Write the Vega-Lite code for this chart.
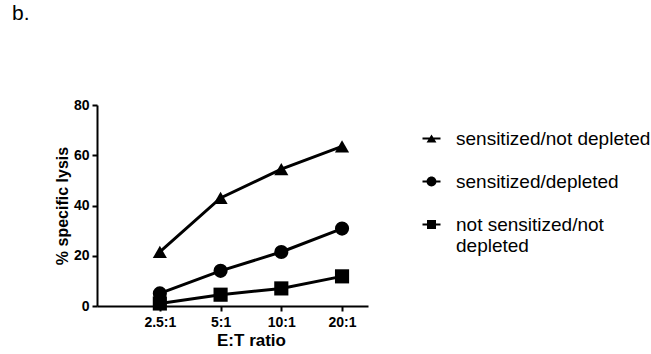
{
  "$schema": "https://vega.github.io/schema/vega-lite/v6.json",
  "width": 271,
  "height": 201,
  "autosize": {"type": "none"},
  "padding": {"left": 97, "top": 105, "right": 283, "bottom": 48},
  "background": "white",
  "title": {"text": "b.", "anchor": "start", "frame": "group", "dx": -85, "offset": 74, "fontSize": 21, "font": "Liberation Sans", "fontWeight": "normal", "color": "black"},
  "config": {"view": {"stroke": null}},
  "data": {"values": [
    {"ratio": 2.5, "group": "sensitized/not depleted", "lysis": 21.5},
    {"ratio": 5, "group": "sensitized/not depleted", "lysis": 43},
    {"ratio": 10, "group": "sensitized/not depleted", "lysis": 54.5},
    {"ratio": 20, "group": "sensitized/not depleted", "lysis": 63.5},
    {"ratio": 2.5, "group": "sensitized/depleted", "lysis": 5},
    {"ratio": 5, "group": "sensitized/depleted", "lysis": 14},
    {"ratio": 10, "group": "sensitized/depleted", "lysis": 21.5},
    {"ratio": 20, "group": "sensitized/depleted", "lysis": 30.8},
    {"ratio": 2.5, "group": "not sensitized/not depleted", "lysis": 1},
    {"ratio": 5, "group": "not sensitized/not depleted", "lysis": 4.5},
    {"ratio": 10, "group": "not sensitized/not depleted", "lysis": 7},
    {"ratio": 20, "group": "not sensitized/not depleted", "lysis": 11.8}
  ]},
  "encoding": {
    "x": {"field": "ratio", "type": "quantitative",
      "scale": {"type": "log", "domain": [1.22, 26.9], "nice": false},
      "axis": {"values": [2.5, 5, 10, 20], "labelExpr": "datum.value + ':1'", "title": "E:T ratio",
        "grid": false, "domainColor": "black", "domainWidth": 2, "tickColor": "black", "tickWidth": 2, "tickSize": 5,
        "labelFont": "Liberation Sans", "labelFontWeight": "bold", "labelFontSize": 14, "labelColor": "black", "labelPadding": 4,
        "titleFont": "Liberation Sans", "titleFontWeight": "bold", "titleFontSize": 17, "titleColor": "black", "titlePadding": 3, "titleX": 154}},
    "y": {"field": "lysis", "type": "quantitative",
      "scale": {"domain": [0, 80], "nice": false},
      "axis": {"values": [0, 20, 40, 60, 80], "title": "% specific lysis",
        "grid": false, "domainColor": "black", "domainWidth": 2, "tickColor": "black", "tickWidth": 2, "tickSize": 5,
        "labelFont": "Liberation Sans", "labelFontWeight": "bold", "labelFontSize": 14, "labelColor": "black", "labelPadding": 3,
        "titleFont": "Liberation Sans", "titleFontWeight": "bold", "titleFontSize": 16, "titleColor": "black", "titlePadding": 3}},
    "detail": {"field": "group"}
  },
  "layer": [
    {"mark": {"type": "line", "color": "black", "strokeWidth": 3}},
    {"mark": {"type": "point", "filled": true, "color": "black", "opacity": 1, "size": 200},
      "encoding": {
        "shape": {"field": "group", "type": "nominal",
          "scale": {"domain": ["sensitized/not depleted", "sensitized/depleted", "not sensitized/not depleted"], "range": ["triangle-up", "circle", "square"]},
          "legend": null}
      }},
    {"mark": {"type": "point", "filled": true, "color": "black", "opacity": 0, "size": 1},
      "encoding": {
        "shape": {"field": "group", "type": "nominal",
          "scale": {"domain": ["sensitized/not depleted", "sensitized/depleted", "not sensitized/not depleted"],
            "range": ["M-1,-0.1H1V0.1H-1Z M0,-0.45L0.55,0.45L-0.55,0.45Z", "M-1,-0.1H1V0.1H-1Z M-0.55,0A0.55,0.55 0 1,1 0.55,0A0.55,0.55 0 1,1 -0.55,0Z", "M-1,-0.1H1V0.1H-1Z M-0.5,-0.5H0.5V0.5H-0.5Z"]},
          "legend": {"title": null, "orient": "none", "legendX": 325, "legendY": 24, "rowPadding": 23,
            "labelFont": "Liberation Sans", "labelFontSize": 19, "labelColor": "black", "labelLimit": 400, "labelOffset": 15,
            "symbolSize": 324, "symbolFillColor": "black", "symbolStrokeWidth": 0, "symbolOpacity": 1,
            "labelExpr": "datum.value == 'not sensitized/not depleted' ? ['not sensitized/not', 'depleted'] : datum.value"}
        }
      }}
  ],
  "resolve": {"scale": {"shape": "independent"}, "legend": {"shape": "independent"}}
}
